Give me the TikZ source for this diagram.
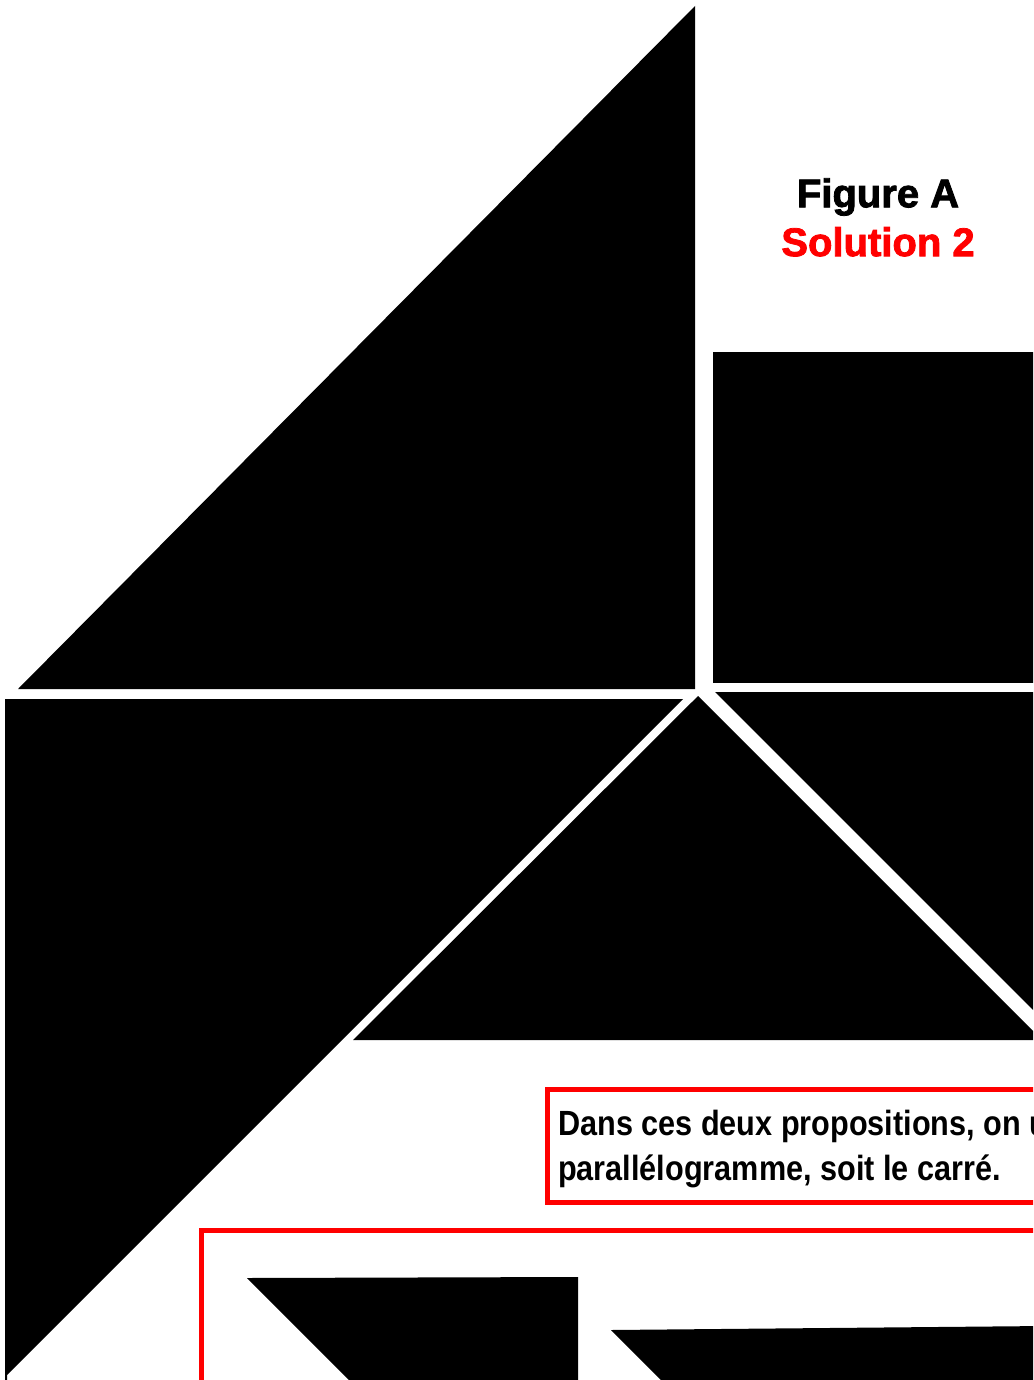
\documentclass[tikz,border=0pt]{standalone}
\usepackage{fontspec}
\setmainfont{Liberation Sans}
\newfontfamily\titlefont[FakeBold=2]{Liberation Sans Bold}
\newfontfamily\boxfont[FakeStretch=0.875]{Liberation Sans Bold}
\usepackage{tikz}
\usetikzlibrary{positioning}

\tikzset{
  piece/.style={fill=black, draw=none},
  redframe/.style={draw=red, line width=5pt},
  titletext/.style={font=\titlefont\fontsize{40}{46}\selectfont, inner sep=0pt},
}

\begin{document}
\begin{tikzpicture}[x=1pt, y=-1pt]
\useasboundingbox (0,0) rectangle (1033,1380);
\clip (0,0) rectangle (1033,1380);
% tangram pieces
\fill[piece] (695,6) -- (695,689) -- (18,689) -- cycle;
\fill[piece] (713,352) -- (1045,352) -- (1045,683) -- (713,683) -- cycle;
\fill[piece] (715,692) -- (1045,692) -- (1045,1022) -- cycle;
\fill[piece] (698,696) -- (1042,1040) -- (353,1040) -- cycle;
\fill[piece] (5,699) -- (683,699) -- (7,1375) -- (7,1385) -- (5,1385) -- cycle;
% titles
\node[titletext] (figA) at (878,197) {Figure A};
\node[titletext, text=red, below=11pt of figA] (sol) {Solution 2};
% remark box
\draw[redframe] (547,1089) rectangle (1060,1202);
\node[anchor=base west, inner sep=0pt, align=left,
      font=\boxfont\fontsize{35}{45}\selectfont] (remark) at (558,1180)
  {Dans ces deux propositions, on utilise soit le\\parallélogramme, soit le carré.};
% second frame
\draw[redframe] (201,1230) rectangle (1060,1420);
\fill[piece] (247,1278) -- (578,1277) -- (578,1390) -- (359,1390) -- cycle;
\fill[piece] (611,1330) -- (1045,1326) -- (1045,1390) -- (671,1390) -- cycle;
\end{tikzpicture}
\end{document}
